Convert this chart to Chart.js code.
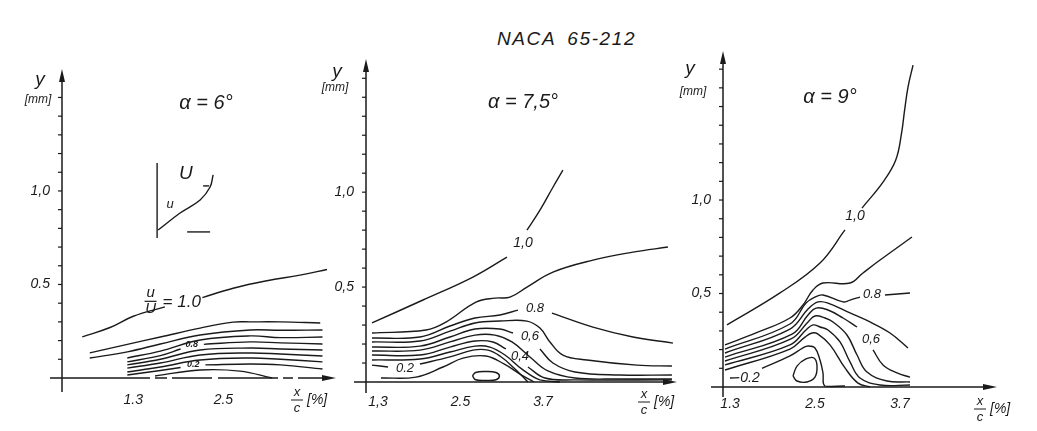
<!DOCTYPE html>
<html>
<head>
<meta charset="utf-8">
<script src="https://cdn.jsdelivr.net/npm/chart.js@4.4.1/dist/chart.umd.min.js"></script>
<style>
  body { margin: 0; background: #fff; width: 1037px; height: 431px; overflow: hidden; position: relative; }
  canvas { position: absolute; left: 0; top: 0; }
  #title { position: absolute; left: 497px; top: 28px; font: italic 19px "Liberation Sans", sans-serif;
           letter-spacing: 1.6px; word-spacing: 5px; color: #1a1a1a; }
</style>
</head>
<body>
<div id="title">NACA 65-212</div>
<canvas id="p1" width="1037" height="431"></canvas>
<canvas id="p2" width="1037" height="431"></canvas>
<canvas id="p3" width="1037" height="431"></canvas>
<script>
// tick labels (as printed in the figure)
const p1XTicks = ['1.3', '2.5'];
const p2XTicks = ['1,3', '2.5', '3.7'];
const p3XTicks = ['1.3', '2.5', '3.7'];
const xTickVals = [1.3, 2.5, 3.7];
const p1YTicks = ['1,0', '0.5'];
const p2YTicks = ['1,0', '0,5'];
const p3YTicks = ['1,0', '0,5'];
const yTickVals = [1.0, 0.5];

// ---- alpha = 6 deg : contours of u/U, points are [x/c %, y mm], null = gap for label
const p1_10 = [[0.62,0.22],[0.99,0.27],[1.30,0.33],[1.72,0.38],null,[2.22,0.43],[2.63,0.48],[3.08,0.52],[3.52,0.55],[3.88,0.58]];
const p1_b1 = [[0.72,0.134],[1.22,0.18],[1.66,0.219],[2.19,0.267],[2.63,0.299],[2.86,0.30],[3.26,0.30],[3.79,0.294]];
const p1_b2 = [[0.72,0.107],[1.22,0.14],[1.66,0.182],[2.19,0.23],[2.86,0.257],[3.26,0.255],[3.82,0.257]];
const p1_b3 = [[1.22,0.107],[1.66,0.144],[2.19,0.203],[2.86,0.225],[3.26,0.216],[3.82,0.219]];
const p1_b4 = [[1.22,0.086],[1.66,0.12],[1.93,0.155],null,[2.24,0.18],[2.86,0.193],[3.26,0.188],[3.82,0.182]];
const p1_b5 = [[1.22,0.07],[1.66,0.10],[2.19,0.15],[2.86,0.16],[3.26,0.155],[3.82,0.15]];
const p1_b6 = [[1.22,0.053],[1.66,0.08],[2.19,0.123],[2.86,0.134],[3.26,0.128],[3.82,0.118]];
const p1_b7 = [[1.22,0.032],[1.66,0.059],[2.19,0.096],[2.86,0.107],[3.26,0.10],[3.82,0.086]];
const p1_b8 = [[1.22,0.016],[1.66,0.04],[1.93,0.056],null,[2.26,0.07],[2.86,0.075],[3.26,0.07],[3.82,0.048]];
const p1_arc = [[1.59,0.011],[2.19,0.043],[2.72,0.037],[3.15,0.0]];
// little velocity profile sketch
const p1_inAxis = [[1.617,0.749],[1.617,1.150]];
const p1_inProfile = [[1.63,0.791],[1.923,0.882],[2.19,0.952],[2.323,1.021],[2.363,1.086]];
const p1_inBase = [[2.017,0.781],[2.323,0.781]];
const p1_inTick = [[2.23,1.027],[2.31,1.027]];

// ---- alpha = 7.5 deg
const p2_10 = [[1.212,0.311],[1.954,0.432],[2.681,0.553],[3.176,0.658],null,[3.467,0.800],[3.656,0.905],[3.845,1.026],[3.990,1.116]];
const p2_09 = [[1.212,0.258],[1.998,0.274],[2.289,0.316],[2.725,0.421],[3.001,0.442],[3.220,0.447],[3.467,0.500],[3.845,0.579],[4.427,0.642],[5.009,0.684],[5.518,0.711]];
const p2_08 = [[1.212,0.232],[1.910,0.237],[2.347,0.295],[2.710,0.337],[3.074,0.353],[3.336,0.379],null,[3.830,0.363],[4.427,0.289],[5.009,0.237],[5.591,0.205]];
const p2_07 = [[1.212,0.211],[1.910,0.216],[2.347,0.268],[2.710,0.311],[3.074,0.321],[3.467,0.321],[3.656,0.284],[3.801,0.211],[3.990,0.142],[4.340,0.116],[5.067,0.089],[5.576,0.084]];
const p2_06 = [[1.212,0.184],[1.910,0.189],[2.347,0.237],[2.710,0.279],[3.074,0.279],[3.263,0.258],null,[3.656,0.174],[3.845,0.100],[4.165,0.053],[4.820,0.037],[5.576,0.037]];
const p2_05 = [[1.212,0.163],[1.910,0.168],[2.347,0.211],[2.710,0.247],[3.001,0.247],[3.249,0.211],[3.510,0.132],[3.772,0.058],[4.165,0.021],[4.820,0.016],[5.576,0.016]];
const p2_04 = [[1.212,0.142],[1.910,0.142],[2.347,0.184],[2.710,0.216],[2.972,0.211],[3.161,0.174],null,[3.481,0.079],[3.729,0.021],[4.165,0.011],[5.576,0.011]];
const p2_03 = [[1.212,0.116],[1.910,0.121],[2.347,0.158],[2.710,0.189],[2.929,0.184],[3.147,0.142],[3.394,0.068],[3.656,0.011],[3.947,0.0]];
const p2_02 = [[1.212,0.089],[1.445,0.079],null,[1.910,0.095],[2.347,0.132],[2.681,0.168],[2.900,0.168],[3.074,0.137],[3.278,0.074],[3.481,0.0]];
const p2_01 = [[1.343,0.021],[1.852,0.026],[2.245,0.079],[2.536,0.126],[2.870,0.137],[3.132,0.095],[3.365,0.042],[3.569,0.0]];
const p2_eddy = [[2.674,0.032],[2.72,0.05],[2.87,0.055],[3.016,0.05],[3.066,0.032],[3.016,0.012],[2.87,0.008],[2.72,0.012],[2.674,0.032]];

// ---- alpha = 9 deg
const p3_10 = [[1.256,0.332],[2.005,0.503],[2.570,0.663],[2.923,0.840],null,[3.163,0.957],[3.460,1.096],[3.640,1.214],[3.722,1.358],[3.765,1.481],[3.813,1.604],[3.884,1.722]];
const p3_09 = [[1.228,0.225],[1.666,0.289],[2.146,0.369],[2.330,0.439],[2.471,0.519],[2.612,0.556],[2.994,0.556],[3.177,0.610],[3.418,0.679],[3.869,0.802]];
const p3_08 = [[1.228,0.203],[2.146,0.337],[2.372,0.449],[2.499,0.481],[2.612,0.492],[2.895,0.455],[2.994,0.465],[3.135,0.481],null,[3.488,0.492],[3.841,0.503]];
const p3_07 = [[1.228,0.182],[2.146,0.310],[2.401,0.417],[2.542,0.455],[2.683,0.449],[2.994,0.396],[3.276,0.348],[3.559,0.289],[3.813,0.209]];
const p3_06 = [[1.228,0.160],[2.175,0.283],[2.401,0.385],[2.514,0.422],[2.683,0.412],[2.895,0.369],[3.093,0.321],null,[3.319,0.198],[3.460,0.118],[3.658,0.075],[3.841,0.053]];
const p3_05 = [[1.228,0.139],[2.160,0.257],[2.401,0.348],[2.499,0.380],[2.641,0.369],[2.754,0.348],[2.951,0.278],[3.093,0.171],[3.234,0.080],[3.516,0.032],[3.841,0.027]];
const p3_04 = [[1.228,0.118],[2.146,0.225],[2.372,0.305],[2.471,0.332],[2.570,0.321],[2.683,0.305],[2.853,0.241],[2.994,0.134],[3.135,0.048],[3.418,0.011],[3.841,0.011]];
const p3_03 = [[1.228,0.091],[2.146,0.203],[2.358,0.267],[2.457,0.289],[2.542,0.283],[2.711,0.225],[2.923,0.102],[3.107,0.021],[3.276,0.0]];
const p3_02 = [[1.299,0.048],[1.43,0.05],null,[1.751,0.10],[2.146,0.166],[2.330,0.209],[2.401,0.219],[2.499,0.209],[2.570,0.144],[2.612,0.075],[2.641,0.005],[2.923,0.005]];
const p3_eddy = [[2.189,0.059],[2.245,0.112],[2.372,0.150],[2.485,0.155],[2.528,0.112],[2.499,0.053],[2.386,0.027],[2.245,0.032],[2.189,0.059]];

const INK = '#1a1a1a';
const FONT = '"Liberation Sans", sans-serif';

function segments(pts) {
  const out = [[]];
  pts.forEach(p => {
    if (p) out[out.length - 1].push({x: p[0], y: p[1]});
    else out.push([]);
  });
  return out.filter(s => s.length > 1);
}

function txt(ctx, s, x, y, size, align, weight) {
  ctx.font = 'italic ' + (weight || 'normal') + ' ' + size + 'px ' + FONT;
  ctx.textAlign = align || 'center';
  ctx.textBaseline = 'middle';
  ctx.fillText(s, x, y);
}

function fraction(ctx, a, b, x, y, size) {
  txt(ctx, a, x, y - 8, size);
  ctx.beginPath();
  ctx.moveTo(x - 6, y); ctx.lineTo(x + 6, y);
  ctx.stroke();
  txt(ctx, b, x, y + 8, size);
}

function drawFrame(c, o) {
  const ctx = c.ctx, xs = c.scales.x, ys = c.scales.y;
  const x0 = xs.left, y0 = ys.getPixelForValue(0);
  const top = ys.top, right = xs.right;
  ctx.save();
  ctx.strokeStyle = INK;
  ctx.fillStyle = INK;
  ctx.lineWidth = 1.5;

  // y axis with arrow
  ctx.beginPath();
  ctx.moveTo(x0, top + 2); ctx.lineTo(x0, y0 + o.axisDrop);
  ctx.stroke();
  ctx.beginPath();
  ctx.moveTo(x0, top - 6); ctx.lineTo(x0 - 3, top + 7); ctx.lineTo(x0 + 3, top + 7);
  ctx.closePath(); ctx.fill();

  // x axis with arrow
  ctx.setLineDash(o.xDash);
  ctx.beginPath();
  ctx.moveTo(x0 - 12, y0); ctx.lineTo(right - 8, y0);
  ctx.stroke();
  ctx.setLineDash([]);
  ctx.beginPath();
  ctx.moveTo(right, y0); ctx.lineTo(right - 14, y0 - 3); ctx.lineTo(right - 14, y0 + 3);
  ctx.closePath(); ctx.fill();

  // y ticks every 0.1
  ctx.lineWidth = 1.2;
  for (let v = 0.1; v < ys.max - 0.05; v += 0.1) {
    const py = ys.getPixelForValue(v);
    ctx.beginPath();
    ctx.moveTo(x0 - 4, py); ctx.lineTo(x0, py);
    ctx.stroke();
  }
  yTickVals.forEach((v, i) => txt(ctx, o.yTicks[i], x0 - 12, ys.getPixelForValue(v), 14, 'right'));
  o.xTicks.forEach((s, i) => txt(ctx, s, xs.getPixelForValue(xTickVals[i]), y0 + o.xLabDy, 14));

  // axis titles
  txt(ctx, 'y', o.yLab[0], o.yLab[1], 19);
  txt(ctx, '[mm]', o.mm[0], o.mm[1], 12);
  ctx.lineWidth = 1;
  fraction(ctx, 'x', 'c', o.frac[0], o.frac[1], 13);
  txt(ctx, '[%]', o.frac[0] + 10, o.frac[1], 14, 'left');

  // angle of attack
  txt(ctx, o.alpha, o.alphaPos[0], o.alphaPos[1], 20);

  // contour labels at data positions
  o.notes.forEach(n => {
    const px = xs.getPixelForValue(n[1]), py = ys.getPixelForValue(n[2]);
    txt(ctx, n[0], px, py, n[3], 'center', n[4]);
  });
  if (o.extra) o.extra(ctx, xs, ys);
  ctx.restore();
}

function makePanel(id, o) {
  const datasets = [];
  o.lines.forEach(l => segments(l).forEach(s => datasets.push({
    data: s, borderColor: INK, borderWidth: 1.4, pointRadius: 0,
    tension: 0.4, fill: false, clip: false
  })));
  return new Chart(document.getElementById(id), {
    type: 'line',
    data: {datasets: datasets},
    options: {
      responsive: false, animation: false, events: [],
      layout: {padding: o.pad},
      plugins: {legend: {display: false}, tooltip: {enabled: false}},
      scales: {
        x: {type: 'linear', display: false, min: o.xr[0], max: o.xr[1]},
        y: {type: 'linear', display: false, min: 0, max: o.ymax}
      }
    },
    plugins: [{id: 'frame', afterDraw(c) { drawFrame(c, o); }}]
  });
}

makePanel('p1', {
  pad: {left: 62, right: 701, top: 75, bottom: 53}, xr: [0.35, 4.0], ymax: 1.62,
  lines: [p1_10, p1_b1, p1_b2, p1_b3, p1_b4, p1_b5, p1_b6, p1_b7, p1_b8, p1_arc,
          p1_inAxis, p1_inProfile, p1_inBase, p1_inTick],
  xTicks: p1XTicks, yTicks: p1YTicks, xDash: [100, 5, 12, 5, 40, 6, 60, 5, 10, 5], axisDrop: 14, xLabDy: 22,
  yLab: [40, 80], mm: [38, 100], frac: [297, 400], alpha: 'α = 6°', alphaPos: [206, 103],
  notes: [['0.8', 2.08, 0.178, 9, 'bold'], ['0.2', 2.1, 0.07, 9, 'bold'],
          ['U', 2.0, 1.09, 19], ['u', 1.79, 0.93, 13]],
  extra(ctx, xs, ys) {
    // u/U = 1.0 label on the outer contour
    const px = xs.getPixelForValue(1.53), py = ys.getPixelForValue(0.41);
    ctx.lineWidth = 1.2;
    fraction(ctx, 'u', 'U', px, py, 15);
    txt(ctx, '= 1.0', px + 12, py + 1, 17, 'left');
  }
});

makePanel('p2', {
  pad: {left: 366, right: 360, top: 65, bottom: 49}, xr: [1.125, 5.65], ymax: 1.67,
  lines: [p2_10, p2_09, p2_08, p2_07, p2_06, p2_05, p2_04, p2_03, p2_02, p2_01, p2_eddy],
  xTicks: p2XTicks, yTicks: p2YTicks, xDash: [], axisDrop: 11, xLabDy: 20,
  yLab: [337, 72], mm: [335, 88], frac: [644, 402], alpha: 'α = 7,5°', alphaPos: [523, 102],
  notes: [['1,0', 3.409, 0.732, 14], ['0.8', 3.583, 0.389, 13], ['0,6', 3.51, 0.242, 13],
          ['0,4', 3.365, 0.137, 13], ['0.2', 1.692, 0.074, 13]]
});

makePanel('p3', {
  pad: {left: 723, right: 40, top: 57, bottom: 44}, xr: [1.2, 5.07], ymax: 1.765,
  lines: [p3_10, p3_09, p3_08, p3_07, p3_06, p3_05, p3_04, p3_03, p3_02, p3_eddy],
  xTicks: p3XTicks, yTicks: p3YTicks, xDash: [], axisDrop: 10, xLabDy: 17,
  yLab: [690, 69], mm: [693, 92], frac: [980, 409], alpha: 'α = 9°', alphaPos: [830, 97],
  notes: [['1,0', 3.064, 0.914, 14], ['0.8', 3.304, 0.497, 13], ['0,6', 3.29, 0.257, 13],
          ['0.2', 1.581, 0.048, 14]]
});
</script>
</body>
</html>
